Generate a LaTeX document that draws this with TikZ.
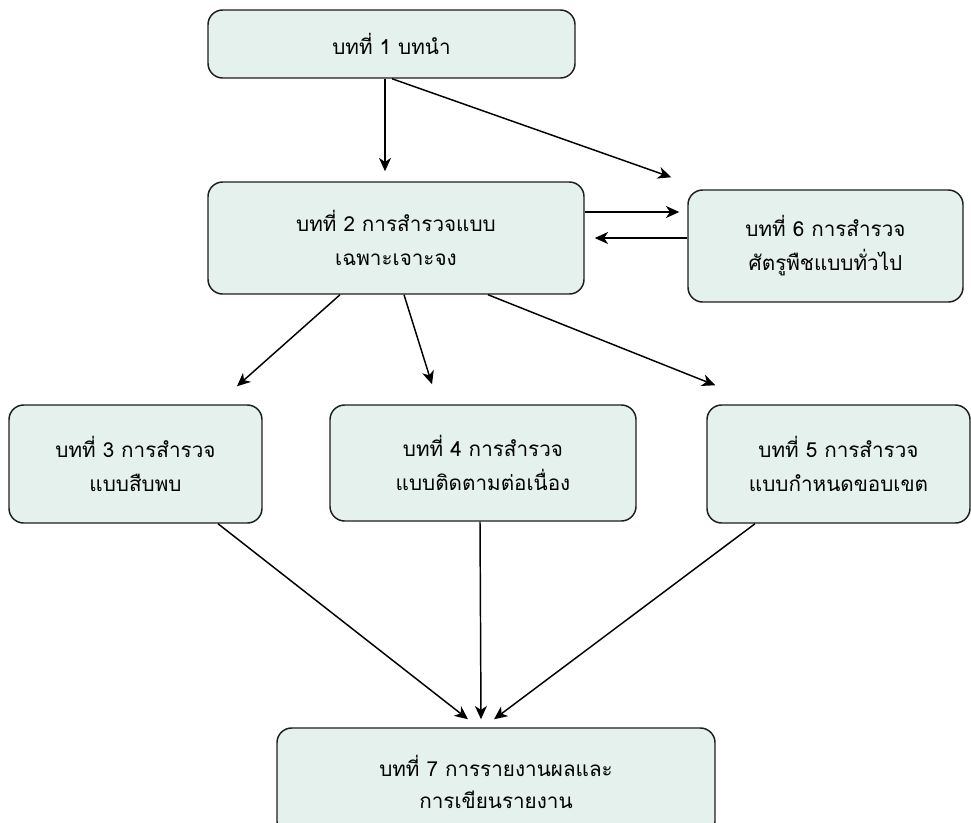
\documentclass[tikz,border=0pt]{standalone}
\usepackage{fontspec}
\setmainfont{Liberation Serif}
\newfontfamily\thaifont[Script=Thai]{Loma}
\usetikzlibrary{arrows.meta,calc}
\definecolor{boxfill}{RGB}{228,241,236}
\definecolor{boxline}{RGB}{30,30,30}
\begin{document}
\begin{tikzpicture}[x=0.75pt,y=-0.75pt,
  chap/.style={draw=boxline,fill=boxfill,line width=1.1pt,rounded corners=11pt,
    align=center,font=\thaifont\fontsize{15.5pt}{25.5pt}\selectfont,inner sep=0pt},
  arr/.style={draw=black,line width=1.1pt,-{Stealth[length=10pt,width=9pt,inset=3pt]}}]
\useasboundingbox (0,0) rectangle (971,822);
\clip (0,0) rectangle (971,822);
\fill[white] (0,0) rectangle (971,822);
\node[chap,minimum width=275.25pt,minimum height=51pt] (b1) at (391.5,44) {บทที่ 1 บทนำ};
\node[chap,minimum width=282pt,minimum height=84pt] (b2) at (396,238) {บทที่ 2 การสำรวจแบบ\\เฉพาะเจาะจง};
\node[chap,minimum width=206.25pt,minimum height=84pt] (b6) at (825.5,246) {บทที่ 6 การสำรวจ\\ศัตรูพืชแบบทั่วไป};
\node[chap,minimum width=189.75pt,minimum height=88.5pt] (b3) at (135.5,464) {บทที่ 3 การสำรวจ\\แบบสืบพบ};
\node[chap,minimum width=229.5pt,minimum height=87pt] (b4) at (483,463) {บทที่ 4 การสำรวจ\\แบบติดตามต่อเนื่อง};
\node[chap,minimum width=197.25pt,minimum height=88.5pt] (b5) at (838.5,464) {บทที่ 5 การสำรวจ\\แบบกำหนดขอบเขต};
\node[chap,minimum width=328.5pt,minimum height=81pt,font=\thaifont\fontsize{15.5pt}{24pt}\selectfont] (b7) at (496,782) {บทที่ 7 การรายงานผลและ\\การเขียนรายงาน};
% connectors
\draw[arr] ($(b1.south)+(-6.5,0)$) -- ($(b2.north)+(-11,-10)$);
\draw[arr] ($(b1.south)+(0.5,0)$) -- ($(b6.north west)+(-16,-12)$);
\draw[arr] ($(b2.east)+(0,-26)$) -- ($(b6.west)+(-8,-34)$);
\draw[arr] ($(b6.west)+(0,-8)$) -- ($(b2.east)+(10,0)$);
\draw[arr] ($(b2.south)+(-56,0)$) -- ($(b3.north)+(101.5,-18)$);
\draw[arr] ($(b2.south)+(8,0)$) -- ($(b4.north)+(-51,-20)$);
\draw[arr] ($(b2.south)+(92,0)$) -- ($(b5.north west)+(9,-19)$);
\draw[arr] ($(b3.south)+(82.5,0)$) -- ($(b7.north)+(-28,-8)$);
\draw[arr] ($(b4.south)+(-3,0)$) -- ($(b7.north)+(-15,-8)$);
\draw[arr] ($(b5.south)+(-83.5,0)$) -- ($(b7.north)+(-2,-8)$);
\end{tikzpicture}
\end{document}
